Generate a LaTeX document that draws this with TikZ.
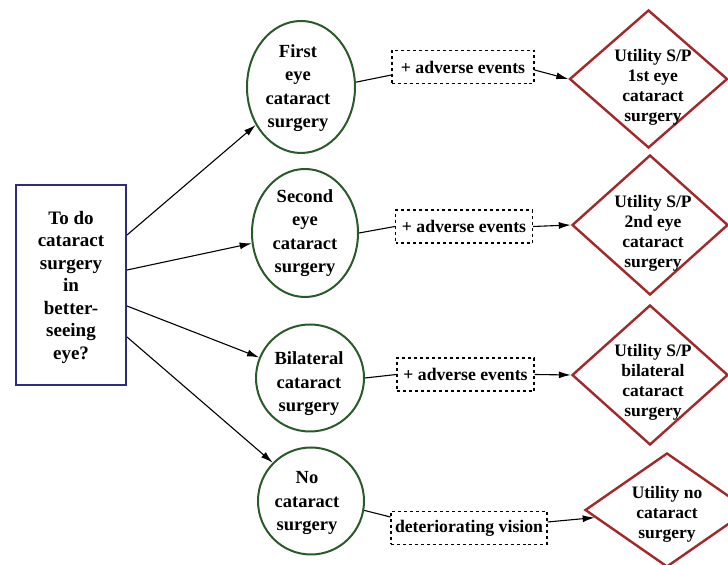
\documentclass[tikz,border=0pt]{standalone}
\usepackage{fontspec}
\setmainfont{Liberation Serif}[BoldFont={Liberation Serif Bold}]
\usetikzlibrary{shapes.geometric,arrows.meta}
\definecolor{boxblue}{HTML}{2E2C80}
\definecolor{ellgreen}{HTML}{2A5A2A}
\definecolor{dmdred}{HTML}{A3282A}
\tikzset{
  qbox/.style={draw=boxblue,line width=2bp,rectangle,minimum width=110bp,minimum height=200bp,inner sep=0pt},
  qtext/.style={align=center,inner sep=0pt,font=\fontsize{19bp}{22.5bp}\selectfont\bfseries},
  chance/.style={draw=ellgreen,line width=2bp,ellipse,inner sep=0pt},
  ctext/.style={align=center,inner sep=0pt,font=\fontsize{18.5bp}{23.5bp}\selectfont\bfseries},
  evbox/.style={draw,dashed,line width=1.1bp,rectangle,minimum height=33bp,inner sep=2bp,
    font=\fontsize{17.7bp}{20bp}\selectfont\bfseries},
  util/.style={draw=dmdred,line width=2.4bp,diamond,inner sep=0pt},
  utext/.style={align=center,inner sep=0pt,font=\fontsize{17.5bp}{20bp}\selectfont\bfseries},
  arr/.style={line width=1.1bp,-{Latex[length=12bp,width=7bp]}},
  conn/.style={line width=1.1bp}
}
\begin{document}
\begin{tikzpicture}[x=1bp,y=1bp]
\useasboundingbox (0,0) rectangle (728,565);
\clip (0,0) rectangle (728,565);
\fill[white] (0,0) rectangle (728,565);
% decision box
\node[qbox] (q) at (71,280) {};
\node[qtext] (qt) at (71,278) {To do\\cataract\\surgery\\in\\better-\\seeing\\eye?};
% chance nodes
\node[chance,minimum width=108bp,minimum height=132bp] (e1) at (301,478) {};
\node[ctext] (t1) at (298,477) {First\\eye\\cataract\\surgery};
\node[chance,minimum width=106bp,minimum height=128bp] (e2) at (305,332) {};
\node[ctext] (t2) at (305,332) {Second\\eye\\cataract\\surgery};
\node[chance,minimum width=108bp,minimum height=107bp] (e3) at (310,187) {};
\node[ctext] (t3) at (309,181) {Bilateral\\cataract\\surgery};
\node[chance,minimum width=106bp,minimum height=107bp] (e4) at (311,64) {};
\node[ctext] (t4) at (307,62) {No\\cataract\\surgery};
% event boxes
\node[evbox,minimum width=142bp] (d1) at (463,498) {+ adverse events};
\node[evbox,minimum width=137bp] (d2) at (464,338.5) {+ adverse events};
\node[evbox,minimum width=137bp] (d3) at (465.5,190.5) {+ adverse events};
\node[evbox,minimum width=156bp] (d4) at (469,37) {deteriorating vision};
% utility diamonds
\node[util,minimum width=158bp,minimum height=138bp] (u1) at (648.5,486) {};
\node[utext] (ut1) at (653,478) {Utility S/P\\1st eye\\cataract\\surgery};
\node[util,minimum width=156bp,minimum height=140bp] (u2) at (650,340) {};
\node[utext] (ut2) at (653,331.5) {Utility S/P\\2nd eye\\cataract\\surgery};
\node[util,minimum width=156bp,minimum height=140bp] (u3) at (650,190) {};
\node[utext] (ut3) at (653,183) {Utility S/P\\bilateral\\cataract\\surgery};
\node[util,minimum width=164bp,minimum height=114bp] (u4) at (667,55) {};
\node[utext] (ut4) at (667,51) {Utility no\\cataract\\surgery};
% connectors
\draw[arr] ([yshift=50bp]q.east) -- (e1.220);
\draw[arr] ([yshift=15bp]q.east) -- (e2.191);
\draw[arr] ([yshift=-21bp]q.east) -- (e3.158);
\draw[arr] ([yshift=-52bp]q.east) -- (e4.135);
\draw[conn] (e1.5) -- ([yshift=-8bp]d1.west);
\draw[conn] (e2.east) -- (d2.west);
\draw[conn] (e3.east) -- (d3.west);
\draw[conn] (e4.-10) -- ([yshift=11bp]d4.west);
\draw[arr] ([yshift=-3bp]d1.east) -- (u1.west);
\draw[arr] (d2.east) -- (u2.west);
\draw[arr] (d3.east) -- (u3.west);
\draw[arr] ([yshift=6bp]d4.east) -- (u4.186);
\end{tikzpicture}
\end{document}
